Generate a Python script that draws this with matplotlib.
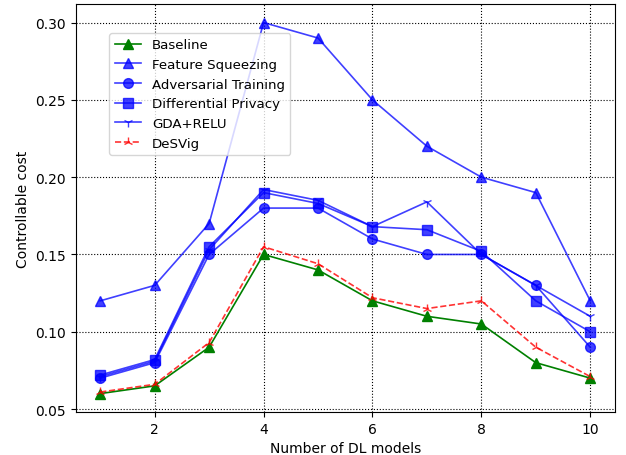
import matplotlib
matplotlib.use('Agg')
import matplotlib.pyplot as plt

models = [1, 2, 3, 4, 5, 6, 7, 8, 9, 10]

baseline = [0.06, 0.065, 0.09, 0.15, 0.14, 0.12, 0.11, 0.105, 0.08, 0.07]
feature_squeezing = [0.12, 0.13, 0.17, 0.30, 0.29, 0.25, 0.22, 0.20, 0.19, 0.12]
adversarial_training = [0.07, 0.08, 0.15, 0.18, 0.18, 0.16, 0.15, 0.15, 0.13, 0.09]
differential_privacy = [0.072, 0.082, 0.155, 0.19, 0.183, 0.168, 0.166, 0.152,
                        0.12, 0.10]
gda_relu = [0.071, 0.081, 0.153, 0.192, 0.185, 0.168, 0.184, 0.15, 0.13, 0.11]
desvig = [0.061, 0.066, 0.093, 0.155, 0.144, 0.122, 0.115, 0.12, 0.09, 0.071]

LINE_WIDTH = 1.2


def plot_lines(ax):
    ax.plot(models, baseline, color='green', marker='^', markersize=7,
            linewidth=LINE_WIDTH, label='Baseline')
    ax.plot(models, feature_squeezing, color='blue', marker='^', markersize=7,
            linewidth=LINE_WIDTH, alpha=0.75, label='Feature Squeezing')
    ax.plot(models, adversarial_training, color='blue', marker='o',
            markersize=7, linewidth=LINE_WIDTH, alpha=0.75,
            label='Adversarial Training')
    ax.plot(models, differential_privacy, color='blue', marker='s',
            markersize=7, linewidth=LINE_WIDTH, alpha=0.75,
            label='Differential Privacy')
    ax.plot(models, gda_relu, color='blue', marker='1', markersize=7,
            linewidth=LINE_WIDTH, alpha=0.75, label='GDA+RELU')
    ax.plot(models, desvig, color='red', linestyle='--', marker='2',
            markersize=7, linewidth=LINE_WIDTH, alpha=0.8, label='DeSVig')

    ax.set_xlabel('Number of DL models')
    ax.set_ylabel('Controllable cost')
    ax.grid(True, color='black', linestyle=':', linewidth=0.8)
    ax.legend(loc='upper left', bbox_to_anchor=(0.05, 0.945), fontsize=9.6)


fig, ax = plt.subplots(figsize=(6.26, 4.56), dpi=100)
plot_lines(ax)
fig.subplots_adjust(left=0.121, right=0.982, top=0.989, bottom=0.094)
fig.savefig('out.png', dpi=100)
